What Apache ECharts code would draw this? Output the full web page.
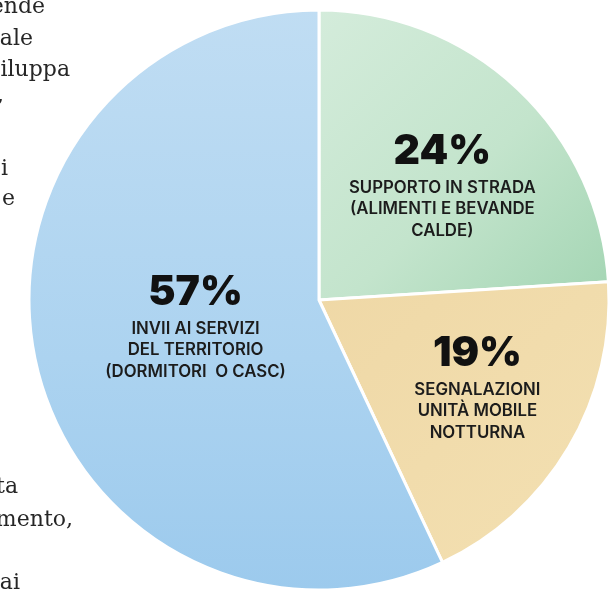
<!DOCTYPE html>
<html>
<head>
<meta charset="utf-8">
<script src="https://cdn.jsdelivr.net/npm/echarts@6/dist/echarts.min.js"></script>
<style>
html,body{margin:0;padding:0;background:#fff;}
#chart{width:616px;height:589px;}
</style>
</head>
<body>
<div id="chart"></div>
<script>
// Data
const categories = [
  "SUPPORTO IN STRADA\n(ALIMENTI E BEVANDE\nCALDE)",
  "SEGNALAZIONI\nUNITÀ MOBILE\nNOTTURNA",
  "INVII AI SERVIZI\nDEL TERRITORIO\n(DORMITORI  O CASC)"
];
const values = [24, 19, 57];
const percentLabels = ["24%", "19%", "57%"];
// Fragments of the surrounding page text (cut off at the left edge)
const sideTexts = ["ende", "ale", "iluppa", ",", "i", "e", "ta", "mento,", "ai"];

const colors = [
  {type:'linear', x:0, y:0, x2:1, y2:1, colorStops:[{offset:0,color:'#d4ecdb'},{offset:0.55,color:'#c3e4cc'},{offset:1,color:'#a3d5b3'}]},
  {type:'linear', x:0, y:0, x2:1, y2:1, colorStops:[{offset:0,color:'#efd8a6'},{offset:1,color:'#f3e0b2'}]},
  {type:'linear', x:0, y:0, x2:0, y2:1, colorStops:[{offset:0,color:'#c0ddf3'},{offset:0.6,color:'#acd3f0'},{offset:1,color:'#9ccaed'}]}
];
const labelShift = [[22,-8],[31,11],[21,-7]];
const sideRight = [45, 33, 70, 4, 8, 15, 18, 73, 20];
const sideBase = [15, 47, 78, 104, 177, 207, 495, 528, 591];

const chart = echarts.init(document.getElementById('chart'), null, {renderer:'canvas'});
chart.setOption({
  backgroundColor: '#ffffff',
  animation: false,
  graphic: sideTexts.map((t, i) => ({
    type: 'text', x: sideRight[i], y: sideBase[i] - 7.6,
    style: {text: t, font: '22px "DejaVu Serif"', fill: '#262626', align: 'right', verticalAlign: 'middle'}
  })),
  series: [{
    type: 'pie',
    center: [319, 300],
    radius: [0, 290],
    startAngle: 90,
    clockwise: true,
    silent: true,
    itemStyle: {borderColor: '#ffffff', borderWidth: 3},
    label: {
      show: true,
      position: 'inside',
      formatter: p => '{p|' + percentLabels[p.dataIndex] + '}\n' +
        p.name.split('\n').map(s => '{c|' + s + '}').join('\n'),
      rich: {
        p: {fontFamily: 'Inter', fontWeight: 900, fontSize: 41, lineHeight: 50, color: '#111', align: 'center'},
        c: {fontFamily: 'Inter', fontWeight: 600, fontSize: 16.8, lineHeight: 21.5, color: '#1c1c1c', align: 'center'}
      }
    },
    labelLayout: p => ({dx: labelShift[p.dataIndex][0], dy: labelShift[p.dataIndex][1]}),
    labelLine: {show: false},
    data: values.map((v, i) => ({value: v, name: categories[i], itemStyle: {color: colors[i]}}))
  }]
});
</script>
</body>
</html>
